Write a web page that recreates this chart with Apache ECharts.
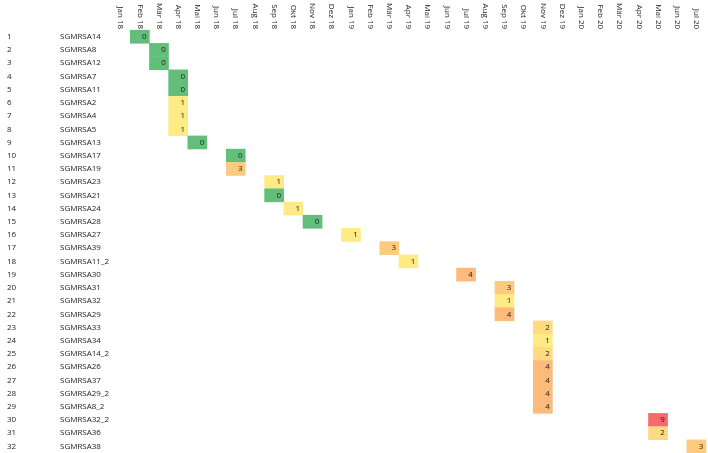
<!DOCTYPE html>
<html>
<head>
<meta charset="utf-8">
<script src="https://cdn.jsdelivr.net/npm/echarts@6/dist/echarts.min.js"></script>
<style>
  html, body { margin: 0; padding: 0; background: #fff; }
  #chart { width: 708px; height: 453px; }
</style>
</head>
<body>
<div id="chart"></div>
<script>
// month columns
const months = [
  'Jan 18', 'Feb 18', 'Mär 18', 'Apr 18', 'Mai 18', 'Jun 18', 'Jul 18', 'Aug 18',
  'Sep 18', 'Okt 18', 'Nov 18', 'Dez 18', 'Jan 19', 'Feb 19', 'Mär 19', 'Apr 19',
  'Mai 19', 'Jun 19', 'Jul 19', 'Aug 19', 'Sep 19', 'Okt 19', 'Nov 19', 'Dez 19',
  'Jan 20', 'Feb 20', 'Mär 20', 'Apr 20', 'Mai 20', 'Jun 20', 'Jul 20'
]
// isolates (rows)
const isolates = [
  'SGMRSA14', 'SGMRSA8', 'SGMRSA12', 'SGMRSA7', 'SGMRSA11', 'SGMRSA2', 'SGMRSA4', 'SGMRSA5',
  'SGMRSA13', 'SGMRSA17', 'SGMRSA19', 'SGMRSA23', 'SGMRSA21', 'SGMRSA24', 'SGMRSA28', 'SGMRSA27',
  'SGMRSA39', 'SGMRSA11_2', 'SGMRSA30', 'SGMRSA31', 'SGMRSA32', 'SGMRSA29', 'SGMRSA33', 'SGMRSA34',
  'SGMRSA14_2', 'SGMRSA26', 'SGMRSA37', 'SGMRSA29_2', 'SGMRSA8_2', 'SGMRSA32_2', 'SGMRSA36', 'SGMRSA38'
]
// month of each isolate (one per row)
const sampleMonth = [
  'Feb 18', 'Mär 18', 'Mär 18', 'Apr 18', 'Apr 18', 'Apr 18', 'Apr 18', 'Apr 18',
  'Mai 18', 'Jul 18', 'Jul 18', 'Sep 18', 'Sep 18', 'Okt 18', 'Nov 18', 'Jan 19',
  'Mär 19', 'Apr 19', 'Jul 19', 'Sep 19', 'Sep 19', 'Sep 19', 'Nov 19', 'Nov 19',
  'Nov 19', 'Nov 19', 'Nov 19', 'Nov 19', 'Nov 19', 'Mai 20', 'Mai 20', 'Jul 20'
]
// value per row
const counts = [
  0, 0, 0, 0, 0, 1, 1, 1,
  0, 0, 3, 1, 0, 1, 0, 1,
  3, 1, 4, 3, 1, 4, 2, 1,
  2, 4, 4, 4, 4, 9, 2, 3
]

const FONT = '"Open Sans", sans-serif'
const TEXT = '#222'

const chart = echarts.init(document.getElementById('chart'))

chart.setOption({
  animation: false,
  backgroundColor: '#fff',
  grid: {
    left: 111,
    top: 27,
    width: 595,
    height: 428
  },
  xAxis: {
    type: 'category',
    position: 'top',
    data: months,
    axisLine: { show: false },
    axisTick: { show: false },
    splitLine: { show: false },
    axisLabel: {
      interval: 0,
      rotate: 90,
      margin: 1,
      // push rotated text a little to the right, like the sheet header
      padding: [6, 0, 0, 0],
      fontFamily: FONT,
      fontSize: 8,
      color: TEXT
    }
  },
  yAxis: {
    type: 'category',
    inverse: true,
    data: isolates,
    axisLine: { show: false },
    axisTick: { show: false },
    splitLine: { show: false },
    axisLabel: {
      interval: 0,
      align: 'left',
      margin: 104,
      fontFamily: FONT,
      fontSize: 8,
      color: TEXT,
      formatter: (v, i) => `{n|${i + 1}}{s|${v}}`,
      rich: {
        n: { width: 53, align: 'left', fontFamily: FONT, fontSize: 8, color: TEXT },
        s: { fontFamily: FONT, fontSize: 8, color: TEXT }
      }
    }
  },
  visualMap: {
    type: 'piecewise',
    show: false,
    dimension: 2,
    pieces: [
      { value: 0, color: '#63BE7B' },
      { value: 1, color: '#FFEB84' },
      { value: 2, color: '#FEDB81' },
      { value: 3, color: '#FDCA7E' },
      { value: 4, color: '#FCBA7B' },
      { value: 9, color: '#F8696B' }
    ]
  },
  series: [
    {
      type: 'heatmap',
      data: isolates.map((name, i) => [sampleMonth[i], name, counts[i]]),
      label: {
        show: true,
        position: 'insideRight',
        distance: 3,
        fontFamily: FONT,
        fontSize: 8,
        color: TEXT
      }
    }
  ]
})
</script>
</body>
</html>
